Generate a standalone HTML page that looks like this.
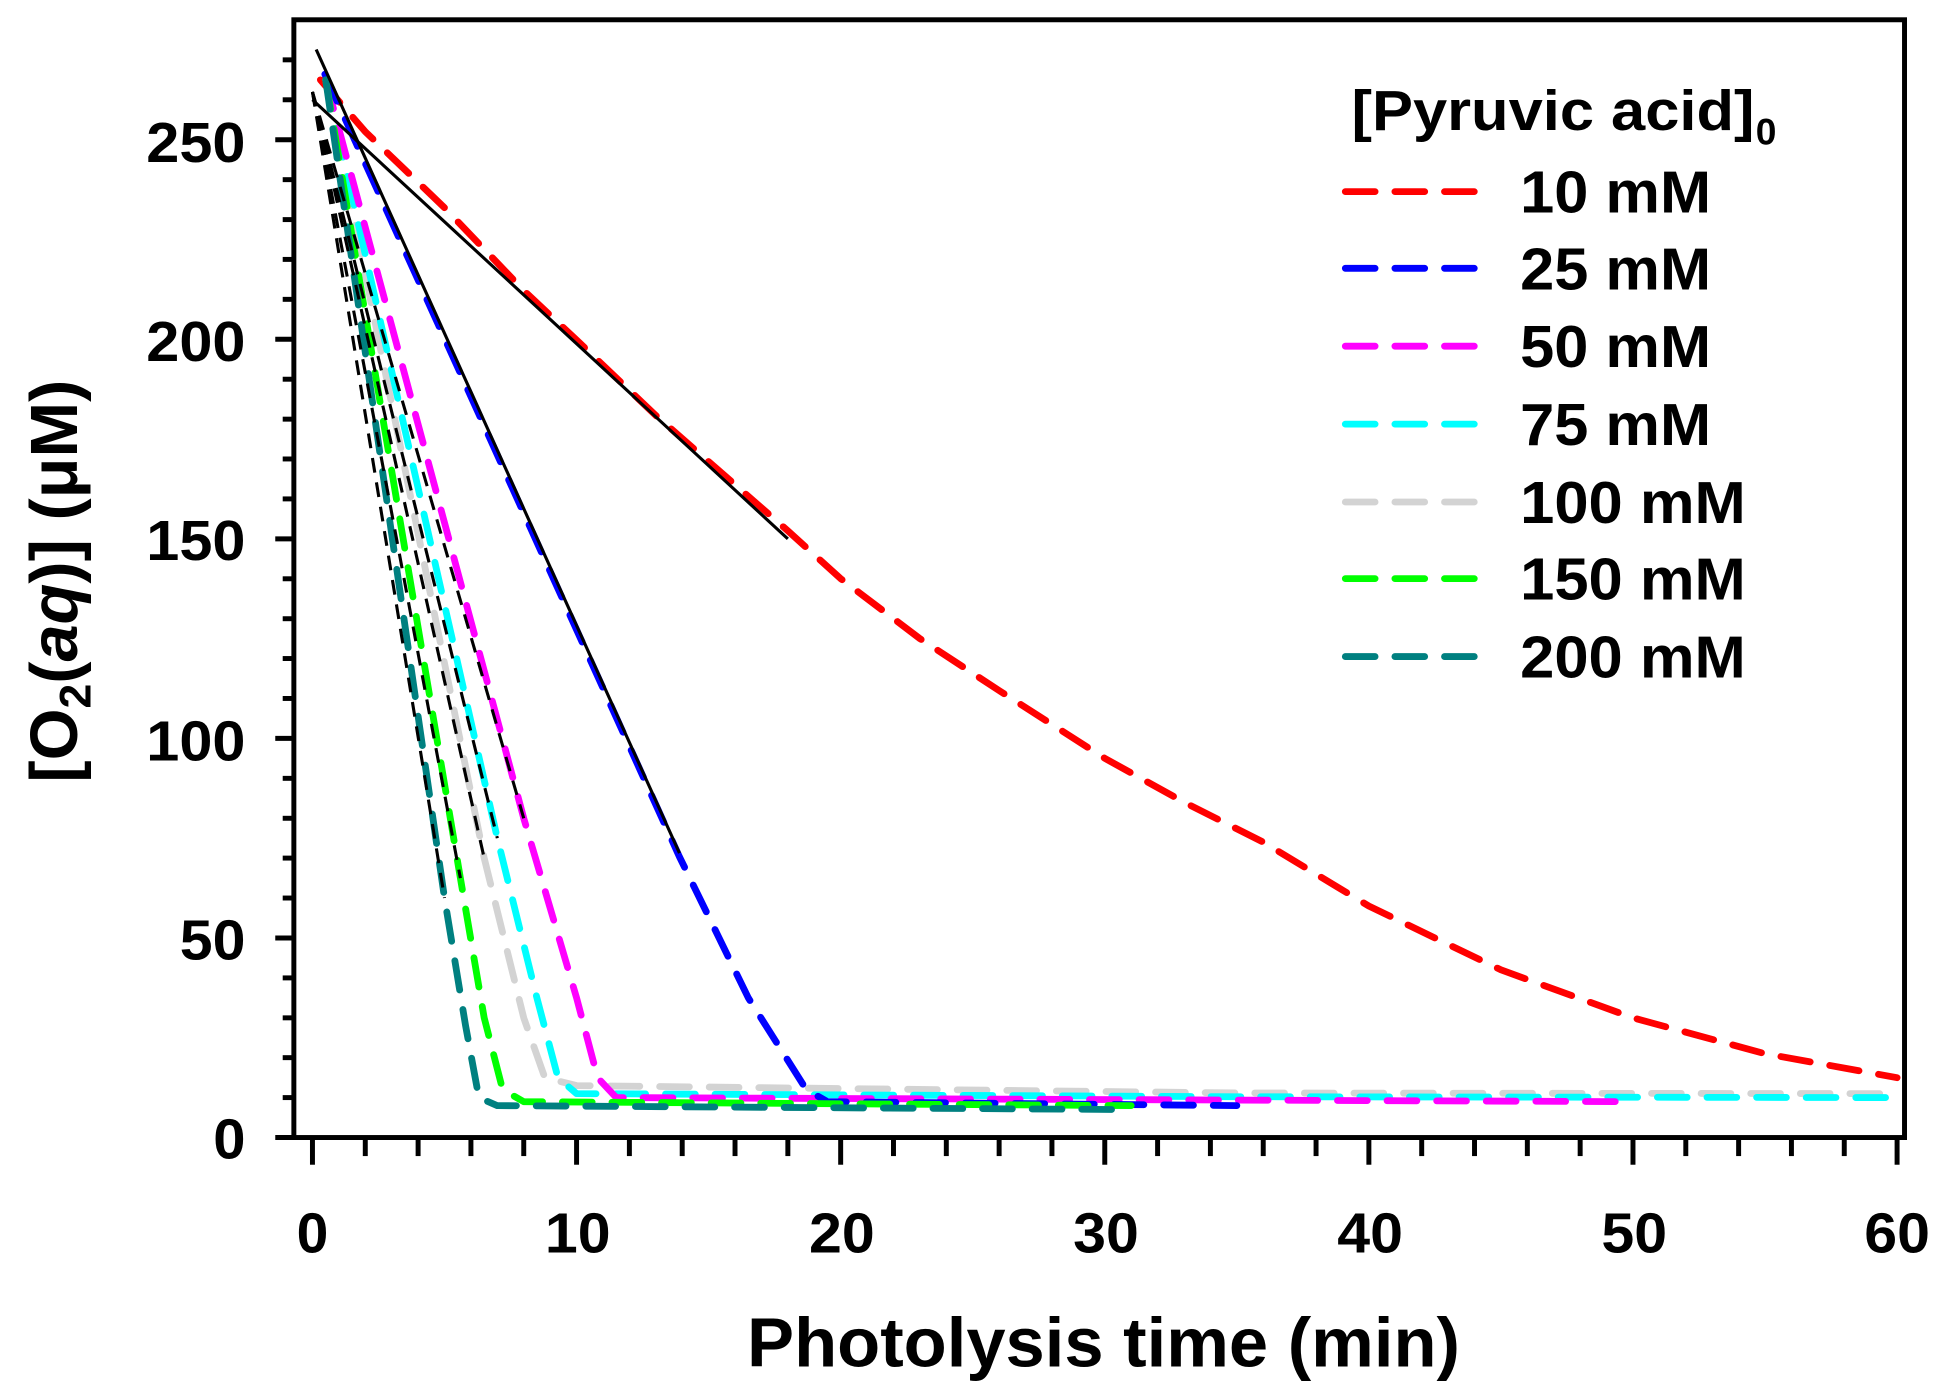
<!DOCTYPE html>
<html><head><meta charset="utf-8"><style>
html,body{margin:0;padding:0;background:#fff;}
svg{display:block;}
text{font-family:"Liberation Sans",Arial,sans-serif;font-weight:bold;fill:#000;}
</style></head><body>
<svg width="1938" height="1391" viewBox="0 0 1563 1125" preserveAspectRatio="none" xmlns="http://www.w3.org/2000/svg">
<rect x="0" y="0" width="1563" height="1125" fill="#fff"/>
<rect x="237" y="16" width="1299" height="904" fill="none" stroke="#000" stroke-width="4"/>
<g stroke="#000" stroke-width="4">
<line x1="222" y1="920" x2="237" y2="920"/><line x1="228" y1="887.7" x2="237" y2="887.7"/><line x1="228" y1="855.4" x2="237" y2="855.4"/><line x1="228" y1="823.2" x2="237" y2="823.2"/><line x1="228" y1="790.9" x2="237" y2="790.9"/>
<line x1="222" y1="758.6" x2="237" y2="758.6"/><line x1="228" y1="726.3" x2="237" y2="726.3"/><line x1="228" y1="694" x2="237" y2="694"/><line x1="228" y1="661.8" x2="237" y2="661.8"/><line x1="228" y1="629.5" x2="237" y2="629.5"/>
<line x1="222" y1="597.2" x2="237" y2="597.2"/><line x1="228" y1="564.9" x2="237" y2="564.9"/><line x1="228" y1="532.6" x2="237" y2="532.6"/><line x1="228" y1="500.4" x2="237" y2="500.4"/><line x1="228" y1="468.1" x2="237" y2="468.1"/>
<line x1="222" y1="435.8" x2="237" y2="435.8"/><line x1="228" y1="403.5" x2="237" y2="403.5"/><line x1="228" y1="371.2" x2="237" y2="371.2"/><line x1="228" y1="339" x2="237" y2="339"/><line x1="228" y1="306.7" x2="237" y2="306.7"/>
<line x1="222" y1="274.4" x2="237" y2="274.4"/><line x1="228" y1="242.1" x2="237" y2="242.1"/><line x1="228" y1="209.8" x2="237" y2="209.8"/><line x1="228" y1="177.6" x2="237" y2="177.6"/><line x1="228" y1="145.3" x2="237" y2="145.3"/>
<line x1="222" y1="113" x2="237" y2="113"/><line x1="228" y1="80.7" x2="237" y2="80.7"/><line x1="228" y1="48.4" x2="237" y2="48.4"/>
<line x1="252" y1="920" x2="252" y2="942"/><line x1="294.6" y1="920" x2="294.6" y2="935"/><line x1="337.2" y1="920" x2="337.2" y2="935"/><line x1="379.8" y1="920" x2="379.8" y2="935"/><line x1="422.4" y1="920" x2="422.4" y2="935"/>
<line x1="465" y1="920" x2="465" y2="942"/><line x1="507.6" y1="920" x2="507.6" y2="935"/><line x1="550.2" y1="920" x2="550.2" y2="935"/><line x1="592.8" y1="920" x2="592.8" y2="935"/><line x1="635.4" y1="920" x2="635.4" y2="935"/>
<line x1="678" y1="920" x2="678" y2="942"/><line x1="720.6" y1="920" x2="720.6" y2="935"/><line x1="763.2" y1="920" x2="763.2" y2="935"/><line x1="805.8" y1="920" x2="805.8" y2="935"/><line x1="848.4" y1="920" x2="848.4" y2="935"/>
<line x1="891" y1="920" x2="891" y2="942"/><line x1="933.6" y1="920" x2="933.6" y2="935"/><line x1="976.2" y1="920" x2="976.2" y2="935"/><line x1="1018.8" y1="920" x2="1018.8" y2="935"/><line x1="1061.4" y1="920" x2="1061.4" y2="935"/>
<line x1="1104" y1="920" x2="1104" y2="942"/><line x1="1146.6" y1="920" x2="1146.6" y2="935"/><line x1="1189.2" y1="920" x2="1189.2" y2="935"/><line x1="1231.8" y1="920" x2="1231.8" y2="935"/><line x1="1274.4" y1="920" x2="1274.4" y2="935"/>
<line x1="1317" y1="920" x2="1317" y2="942"/><line x1="1359.6" y1="920" x2="1359.6" y2="935"/><line x1="1402.2" y1="920" x2="1402.2" y2="935"/><line x1="1444.8" y1="920" x2="1444.8" y2="935"/><line x1="1487.4" y1="920" x2="1487.4" y2="935"/>
<line x1="1530" y1="920" x2="1530" y2="942"/>
</g>
<g font-size="46" text-anchor="end">
<text x="198" y="937" textLength="26" lengthAdjust="spacingAndGlyphs">0</text>
<text x="198" y="776" textLength="53" lengthAdjust="spacingAndGlyphs">50</text>
<text x="198" y="615" textLength="80" lengthAdjust="spacingAndGlyphs">100</text>
<text x="198" y="453" textLength="80" lengthAdjust="spacingAndGlyphs">150</text>
<text x="198" y="292" textLength="80" lengthAdjust="spacingAndGlyphs">200</text>
<text x="198" y="131" textLength="80" lengthAdjust="spacingAndGlyphs">250</text>
</g>
<g font-size="46" text-anchor="middle">
<text x="252" y="1013">0</text>
<text x="466" y="1013" textLength="53" lengthAdjust="spacingAndGlyphs">10</text>
<text x="679" y="1013" textLength="53" lengthAdjust="spacingAndGlyphs">20</text>
<text x="892" y="1013" textLength="53" lengthAdjust="spacingAndGlyphs">30</text>
<text x="1105" y="1013" textLength="53" lengthAdjust="spacingAndGlyphs">40</text>
<text x="1318" y="1013" textLength="53" lengthAdjust="spacingAndGlyphs">50</text>
<text x="1530" y="1013" textLength="53" lengthAdjust="spacingAndGlyphs">60</text>
</g>
<text x="890" y="1105" font-size="56" text-anchor="middle" textLength="575" lengthAdjust="spacingAndGlyphs">Photolysis time (min)</text>
<text transform="translate(62,470) rotate(-90)" font-size="54" text-anchor="middle">[O<tspan font-size="36" dy="11">2</tspan><tspan dy="-11">(</tspan><tspan font-style="italic">aq</tspan>)] (μM)</text>

<g fill="none" stroke-width="5.5" stroke-linecap="round" stroke-linejoin="round" stroke-dasharray="24 16">
<polyline stroke="#ff0000" points="258.4,64.6 294.6,106.5 358.5,168 422.4,235 465,275 528.9,336 592.8,392 635.4,429.3 678,468 741.9,516.5 805.8,558.5 891,613.3 954.9,648.8 1018.8,681.1 1104,732.8 1210.5,784.4 1317,823.2 1423.5,852.2 1530,871.6"/>
<polyline stroke="#d3d3d3" points="262.7,64.6 390.5,694 422.4,823.2 439.4,871.6 465,878 1000,884 1530,884.5"/>
<polyline stroke="#00ffff" points="262.7,64.6 401.1,677.9 433,807 450,871.6 465,884.5 1000,887 1530,887.7"/>
<polyline stroke="#ff00ff" points="262.7,64.6 422.4,661.8 465,807 482,871.6 497,887.7 1317,891"/>
<polyline stroke="#0000ff" points="262,60 548,693 603.5,807 650.3,881.3 667.4,891 997.5,894.2"/>
<polyline stroke="#00ff00" points="262.7,64.6 371.3,710.2 390.5,823.2 405.4,881.3 422.4,891 912.3,894.2"/>
<polyline stroke="#008080" points="262.7,64.6 358.5,726.3 375.5,829.6 386.2,887.7 401,894.2 912.3,897.4"/>
</g>
<g stroke="#000" stroke-width="2.5" fill="none">
<line x1="252" y1="80.7" x2="635.4" y2="435.8"/>
<line x1="255" y1="40" x2="548" y2="690"/>
<line x1="252" y1="74.3" x2="422.4" y2="661.8" stroke-dasharray="12 8"/>
<line x1="252" y1="74.3" x2="401.1" y2="677.9" stroke-dasharray="12 8"/>
<line x1="252" y1="74.3" x2="390.5" y2="694" stroke-dasharray="12 8"/>
<line x1="252" y1="74.3" x2="371.3" y2="710.2" stroke-dasharray="12 8"/>
<line x1="252" y1="74.3" x2="358.5" y2="726.3" stroke-dasharray="12 8"/>
</g>

<text x="1090" y="105" font-size="46" textLength="325" lengthAdjust="spacingAndGlyphs">[Pyruvic acid]</text>
<text x="1416" y="117" font-size="30">0</text>
<g fill="none" stroke-width="5.5" stroke-linecap="round" stroke-dasharray="24 16">
<line x1="1085" y1="155" x2="1198" y2="155" stroke="#ff0000"/>
<line x1="1085" y1="217" x2="1198" y2="217" stroke="#0000ff"/>
<line x1="1085" y1="280" x2="1198" y2="280" stroke="#ff00ff"/>
<line x1="1085" y1="343" x2="1198" y2="343" stroke="#00ffff"/>
<line x1="1085" y1="406" x2="1198" y2="406" stroke="#d3d3d3"/>
<line x1="1085" y1="468" x2="1198" y2="468" stroke="#00ff00"/>
<line x1="1085" y1="531" x2="1198" y2="531" stroke="#008080"/>
</g>
<g font-size="48">
<text x="1226" y="172" textLength="154" lengthAdjust="spacingAndGlyphs">10 mM</text>
<text x="1226" y="234" textLength="154" lengthAdjust="spacingAndGlyphs">25 mM</text>
<text x="1226" y="297" textLength="154" lengthAdjust="spacingAndGlyphs">50 mM</text>
<text x="1226" y="360" textLength="154" lengthAdjust="spacingAndGlyphs">75 mM</text>
<text x="1226" y="423" textLength="182" lengthAdjust="spacingAndGlyphs">100 mM</text>
<text x="1226" y="485" textLength="182" lengthAdjust="spacingAndGlyphs">150 mM</text>
<text x="1226" y="548" textLength="182" lengthAdjust="spacingAndGlyphs">200 mM</text>
</g>
</svg>
</body></html>
